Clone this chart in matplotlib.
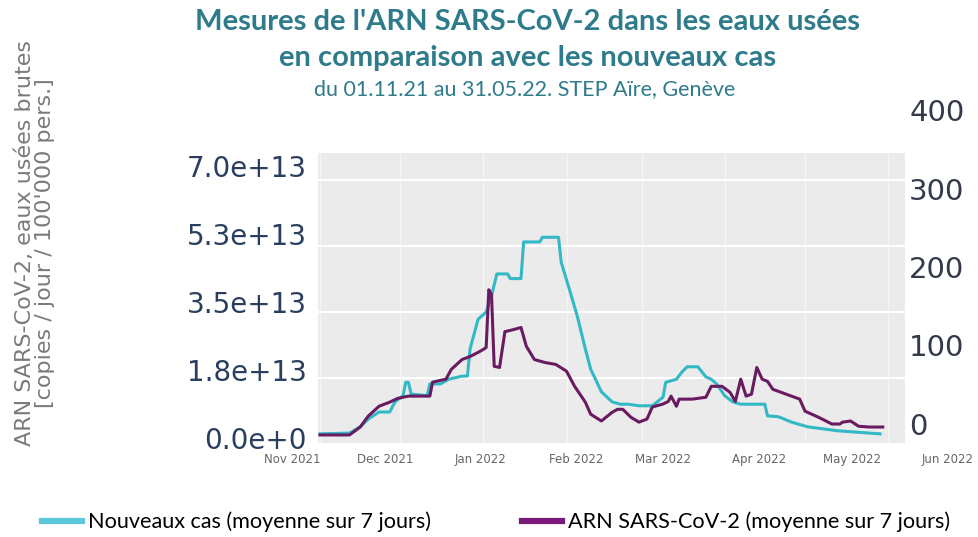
import matplotlib
matplotlib.use('Agg')
import matplotlib.pyplot as plt
from matplotlib.lines import Line2D
import pandas as pd

W, H = 979, 537

# ARN SARS-CoV-2 (copies / jour / 100'000 pers.), unit 1e13
rna_dates = ['2021-11-01', '2021-11-12', '2021-11-16', '2021-11-19', '2021-11-23', '2021-11-27',
             '2021-11-30', '2021-12-04', '2021-12-12', '2021-12-13', '2021-12-18', '2021-12-20',
             '2021-12-24', '2021-12-27', '2021-12-30', '2022-01-01', '2022-01-02', '2022-01-03',
             '2022-01-04', '2022-01-05', '2022-01-07', '2022-01-09', '2022-01-12', '2022-01-15',
             '2022-01-17', '2022-01-20', '2022-01-24', '2022-01-28', '2022-02-01', '2022-02-04',
             '2022-02-08', '2022-02-10', '2022-02-14', '2022-02-18', '2022-02-20', '2022-02-22',
             '2022-02-25', '2022-02-28', '2022-03-03', '2022-03-05', '2022-03-09', '2022-03-11',
             '2022-03-12', '2022-03-14', '2022-03-15', '2022-03-20', '2022-03-25', '2022-03-27',
             '2022-03-31', '2022-04-03', '2022-04-05', '2022-04-07', '2022-04-09', '2022-04-11',
             '2022-04-13', '2022-04-15', '2022-04-17', '2022-04-19', '2022-04-24', '2022-04-29',
             '2022-05-01', '2022-05-06', '2022-05-11', '2022-05-14', '2022-05-15', '2022-05-18',
             '2022-05-21', '2022-05-25', '2022-05-30']
rna_values = [0.24, 0.24, 0.45, 0.74, 1.00, 1.11,
              1.21, 1.27, 1.27, 1.64, 1.72, 1.98,
              2.24, 2.32, 2.43, 2.51, 2.56, 4.09,
              3.96, 2.06, 2.03, 2.98, 3.03, 3.09,
              2.59, 2.24, 2.16, 2.11, 1.93, 1.53,
              1.11, 0.79, 0.61, 0.84, 0.92, 0.92,
              0.71, 0.58, 0.66, 0.98, 1.06, 1.13,
              1.27, 1.00, 1.19, 1.19, 1.24, 1.53,
              1.53, 1.37, 1.13, 1.72, 1.27, 1.32,
              2.03, 1.72, 1.66, 1.45, 1.32, 1.19,
              0.87, 0.71, 0.53, 0.53, 0.58, 0.61,
              0.47, 0.45, 0.45]

# Nouveaux cas (moyenne sur 7 jours, pour 100'000)
cases_dates = ['2021-11-01', '2021-11-12', '2021-11-16', '2021-11-19', '2021-11-23', '2021-11-27',
               '2021-11-29', '2021-12-02', '2021-12-03', '2021-12-04', '2021-12-05', '2021-12-11',
               '2021-12-12', '2021-12-16', '2021-12-19', '2021-12-24', '2021-12-26', '2021-12-27',
               '2021-12-30', '2022-01-02', '2022-01-04', '2022-01-06', '2022-01-10', '2022-01-11',
               '2022-01-15', '2022-01-16', '2022-01-22', '2022-01-23', '2022-01-29', '2022-01-30',
               '2022-02-02', '2022-02-05', '2022-02-08', '2022-02-10', '2022-02-14', '2022-02-18',
               '2022-02-21', '2022-02-24', '2022-02-28', '2022-03-05', '2022-03-09', '2022-03-10',
               '2022-03-14', '2022-03-16', '2022-03-18', '2022-03-22', '2022-03-25', '2022-03-27',
               '2022-03-29', '2022-04-01', '2022-04-04', '2022-04-07', '2022-04-16', '2022-04-17',
               '2022-04-21', '2022-04-26', '2022-05-02', '2022-05-13', '2022-05-21', '2022-05-29']
cases_values = [13, 14, 22, 32, 41, 41,
                54, 62, 79, 79, 64, 62,
                77, 77, 83, 87, 87, 122,
                160, 169, 190, 218, 218, 212,
                212, 259, 259, 265, 265, 233,
                199, 164, 122, 96, 67, 54,
                51, 51, 49, 49, 60, 79,
                83, 92, 99, 99, 86, 83,
                77, 62, 54, 51, 51, 36,
                35, 28, 22, 17, 15, 13]

left_ticks = [0, 1.75, 3.5, 5.25, 7.0]
left_tick_labels = ['0.0e+0', '1.8e+13', '3.5e+13', '5.3e+13', '7.0e+13']
right_ticks = [0, 100, 200, 300, 400]
month_ticks = ['2021-11-01', '2021-12-01', '2022-01-01', '2022-02-01', '2022-03-01',
               '2022-04-01', '2022-05-01', '2022-06-01']
month_labels = ['Nov 2021', 'Dec 2021', 'Jan 2022', 'Feb 2022', 'Mar 2022',
                'Apr 2022', 'May 2022', 'Jun 2022']

TITLE_C = '#2E7B8C'
TICK_C = '#2a3f5f'
CYAN = '#33B8C6'
PURPLE = '#6A1A60'


def box(l, t, r, b):
    return [l / W, 1 - b / H, (r - l) / W, (b - t) / H]


def bare(a):
    a.patch.set_visible(False)
    for s in a.spines.values():
        s.set_visible(False)


rna_x = pd.to_datetime(rna_dates)
cases_x = pd.to_datetime(cases_dates)
months = pd.to_datetime(month_ticks)
day = pd.Timedelta(days=1)
x0 = pd.Timestamp('2021-11-01') - 0.75 * day
x1 = pd.Timestamp('2021-11-01') + 218.3 * day

fig = plt.figure(figsize=(W / 100, H / 100), dpi=100)

# background + grid
rect = box(318, 153, 905, 444)
ax_bg = fig.add_axes(rect)
ax_bg.set_facecolor('#EBEBEB')
ax_bg.set_xlim(x0, x1)
ax_bg.set_ylim(0, 7.717)
ax_bg.set_yticks(left_ticks)
ax_bg.set_xticks(months)
ax_bg.grid(True, axis='y', color='white', linewidth=1.5)
ax_bg.grid(True, axis='x', color='white', linewidth=0.9, alpha=0.6)
ax_bg.tick_params(length=0, labelleft=False, labelbottom=False)
for s in ax_bg.spines.values():
    s.set_visible(False)

# cases (right scale)
ax_c = fig.add_axes(rect, sharex=ax_bg)
ax_c.set_ylim(0, 373)
ax_c.plot(cases_x, cases_values, color=CYAN, linewidth=2.2)
ax_c.axis('off')

# RNA (left scale)
ax_r = fig.add_axes(rect, sharex=ax_bg, sharey=ax_bg)
ax_r.plot(rna_x, rna_values, color=PURPLE, linewidth=2.2)
ax_r.axis('off')

# left tick labels
ax_l = fig.add_axes(box(308, 166, 318, 438))
ax_l.set_ylim(0, 7.0)
ax_l.set_yticks(left_ticks)
ax_l.set_yticklabels(left_tick_labels)
ax_l.tick_params(axis='y', length=0, pad=1, labelsize=20, labelcolor=TICK_C)
ax_l.tick_params(axis='x', bottom=False, labelbottom=False)
bare(ax_l)

# right tick labels
ax_rt = fig.add_axes(box(895, 110, 905, 424))
ax_rt.set_ylim(0, 400)
ax_rt.set_yticks(right_ticks)
ax_rt.yaxis.tick_right()
ax_rt.tick_params(axis='y', length=0, pad=3, labelsize=21, labelcolor='#333a4a')
ax_rt.tick_params(axis='x', bottom=False, labelbottom=False)
bare(ax_rt)

# month labels
ax_m = fig.add_axes(box(292, 451, 948, 452))
ax_m.set_xlim(pd.Timestamp('2021-11-01'), pd.Timestamp('2022-06-01'))
ax_m.set_xticks(months)
ax_m.set_xticklabels(month_labels)
ax_m.tick_params(axis='x', length=0, pad=1, labelsize=8.5, labelcolor='#666666')
ax_m.tick_params(axis='y', left=False, labelleft=False)
bare(ax_m)

# titles
fig.text(528 / W, 1 - 22 / H, "Mesures de l'ARN SARS-CoV-2 dans les eaux usées",
         ha='center', va='center', fontsize=21, fontweight='bold', color=TITLE_C, family='Lato')
fig.text(528 / W, 1 - 58 / H, "en comparaison avec les nouveaux cas",
         ha='center', va='center', fontsize=21, fontweight='bold', color=TITLE_C, family='Lato')
fig.text(525 / W, 1 - 89 / H, "du 01.11.21 au 31.05.22. STEP Aïre, Genève",
         ha='center', va='center', fontsize=15.5, color=TITLE_C, family='Lato')

# left axis title
fig.text(35 / W, 1 - 243 / H, "ARN SARS-CoV-2, eaux usées brutes\n[copies / jour / 100'000 pers.]",
         ha='center', va='center', rotation=90, fontsize=16, color='#7a7a7a',
         linespacing=0.95, multialignment='center')

# legend
handles = [Line2D([], [], color='#5BC8DC', linewidth=4.5),
           Line2D([], [], color='#7B1A7B', linewidth=4.5)]
fig.legend(handles, ['Nouveaux cas (moyenne sur 7 jours)', 'ARN SARS-CoV-2 (moyenne sur 7 jours)'],
           loc='center left', bbox_to_anchor=(42 / W, 1 - 522 / H), ncol=2, frameon=False,
           handlelength=1.85, handletextpad=0.28, columnspacing=4.2, borderpad=0, borderaxespad=0,
           prop={'family': 'Lato', 'size': 15.6})

fig.savefig('out.png', dpi=100)
